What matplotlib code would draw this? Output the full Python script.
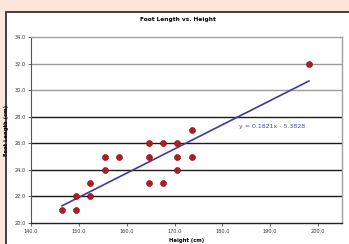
import matplotlib
matplotlib.use("Agg")
import matplotlib.pyplot as plt
from matplotlib.patches import Rectangle
import numpy as np

heights = [146.5, 149.4, 149.4, 152.3, 152.3, 155.4, 155.4, 158.3, 164.6, 167.5,
           164.6, 164.6, 167.5, 170.6, 170.6, 170.6, 173.7, 173.7, 198.1]
foot_lengths = [21, 21, 22, 22, 23, 24, 25, 25, 23, 23,
                25, 26, 26, 26, 25, 24, 25, 27, 32]
slope = 0.1821
intercept = -5.3828
x_ticks = [140, 150, 160, 170, 180, 190, 200]
y_ticks = [20, 22, 24, 26, 28, 30, 32, 34]

fig = plt.figure(figsize=(3.49, 2.44), dpi=100)
fig.patch.set_facecolor('#fce6da')
panel = Rectangle((6/349, -0.01), 1.0, 0.961, transform=fig.transFigure,
                  facecolor='white', edgecolor='#333333', linewidth=1.3, zorder=-1)
fig.patches.append(panel)

ax = fig.add_axes([31/349, 21/244, (342-31)/349, (223-37)/244])
ax.set_zorder(1)
ax.set_facecolor('white')
ax.set_xlim(140, 205)
ax.set_ylim(20, 34)

for yv in y_ticks[1:-1]:
    col = '#1a1a1a' if yv <= 28 else '#9a9a9a'
    ax.axhline(yv, color=col, linewidth=1.0, zorder=1)

xs = np.array([min(heights), max(heights)])
ax.plot(xs, slope * xs + intercept, color='#3c3c9c', linewidth=1.2, zorder=2)
ax.scatter(heights, foot_lengths, s=19, color='#b01c24', edgecolors='#8a1018',
           linewidths=0.4, zorder=3)

ax.set_xticks(x_ticks)
ax.set_xticklabels([f"{v:.1f}" for v in x_ticks])
ax.set_yticks(y_ticks)
ax.set_yticklabels([f"{v:.1f}" for v in y_ticks])
ax.tick_params(labelsize=3.6, length=2, width=0.5, colors='#333333', pad=2)

for side in ['top', 'right']:
    ax.spines[side].set_color('#a0a0a0')
    ax.spines[side].set_linewidth(1.0)
ax.spines['left'].set_color('#555555')
ax.spines['left'].set_linewidth(0.8)
ax.spines['bottom'].set_color('#222222')
ax.spines['bottom'].set_linewidth(1.0)

ax.set_xlabel("Height (cm)", fontsize=3.8, fontweight='bold', labelpad=3)
ax.set_ylabel("Foot Length (cm)", fontsize=3.8, fontweight='bold', labelpad=4)
fig.text(178/349, 1 - 20/244, "Foot Length vs. Height", fontsize=4.2,
         fontweight='bold', ha='center', va='center')
ax.text(183.4, 27.3, f"y = {slope:.4f}x - {abs(intercept):.4f}", fontsize=4.5,
        color='#4a4aa8', ha='left', va='center', zorder=4)

fig.savefig("out.png", dpi=100, facecolor=fig.get_facecolor())
